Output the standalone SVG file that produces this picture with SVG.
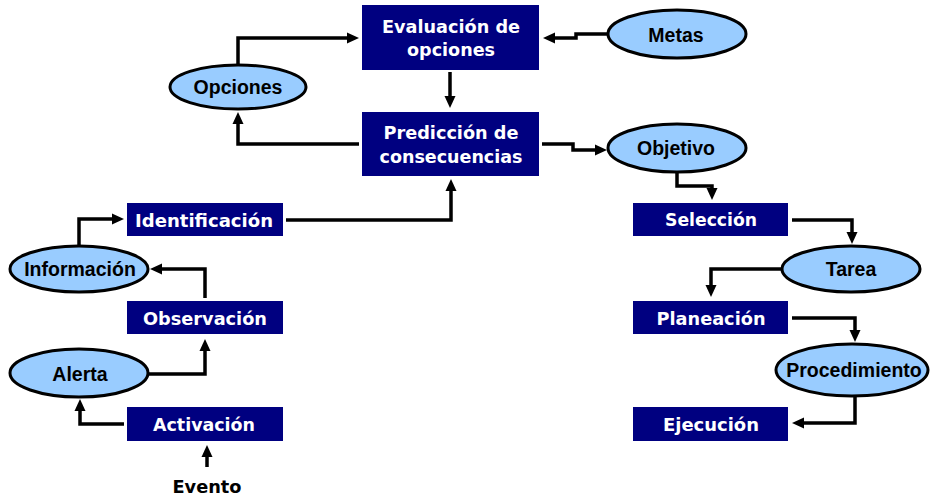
<svg xmlns="http://www.w3.org/2000/svg" width="930" height="500" viewBox="0 0 930 500">
<defs>
<marker id="ah" markerUnits="userSpaceOnUse" markerWidth="12" markerHeight="11" refX="3" refY="5.5" orient="auto" overflow="visible">
<path d="M0,0 L12,5.5 L0,11 z" fill="#000"/>
</marker>
<style>
.box{fill:#000080;}
.bt{font-family:"DejaVu Sans",Verdana,sans-serif;font-weight:bold;font-size:18px;fill:#fff;text-anchor:middle;}
.ell{fill:#99ccff;stroke:#000;stroke-width:3;}
.et{font-family:"Liberation Sans",Arial,sans-serif;font-weight:bold;font-size:19.5px;fill:#000;text-anchor:middle;}
.c{fill:none;stroke:#000;stroke-width:3.5;marker-end:url(#ah);}
</style>
</defs>
<rect width="930" height="500" fill="#fff"/>
<g id="connectors">
<path class="c" d="M238,65 V38 H350"/>
<path class="c" d="M450,72 V99"/>
<path class="c" d="M359,144 H238 V121"/>
<path class="c" d="M608,34 H576 V38 H552"/>
<path class="c" d="M542,144 H573 V150 H598"/>
<path class="c" d="M677,172 V186 H712 V191"/>
<path class="c" d="M792,220 H852 V235"/>
<path class="c" d="M782,269 H711 V288"/>
<path class="c" d="M792,318 H855 V333"/>
<path class="c" d="M855,396 V423 H801"/>
<path class="c" d="M79,246 V219 H115"/>
<path class="c" d="M286,220 H451 V188"/>
<path class="c" d="M205,298 V269 H159"/>
<path class="c" d="M148,374 H205 V348"/>
<path class="c" d="M124,424 H80 V408"/>
<path class="c" d="M207,467 V454"/>
</g>
<g id="evaluacion"><rect class="box" x="362" y="5" width="177" height="65"/>
<text class="bt" x="451" y="33" textLength="138" lengthAdjust="spacingAndGlyphs">Evaluación de</text>
<text class="bt" x="451" y="56" textLength="88" lengthAdjust="spacingAndGlyphs">opciones</text></g>
<g id="prediccion"><rect class="box" x="362" y="112" width="177" height="64"/>
<text class="bt" x="451" y="139" textLength="135" lengthAdjust="spacingAndGlyphs">Predicción de</text>
<text class="bt" x="451" y="163" textLength="143" lengthAdjust="spacingAndGlyphs">consecuencias</text></g>
<g id="identificacion"><rect class="box" x="127" y="203" width="156" height="33"/>
<text class="bt" x="204" y="227" textLength="138" lengthAdjust="spacingAndGlyphs">Identificación</text></g>
<g id="observacion"><rect class="box" x="127" y="301" width="156" height="33"/>
<text class="bt" x="205" y="325" textLength="124" lengthAdjust="spacingAndGlyphs">Observación</text></g>
<g id="activacion"><rect class="box" x="127" y="407" width="156" height="34"/>
<text class="bt" x="204" y="431" textLength="102" lengthAdjust="spacingAndGlyphs">Activación</text></g>
<g id="seleccion"><rect class="box" x="633" y="203" width="155" height="33"/>
<text class="bt" x="711" y="226" textLength="92" lengthAdjust="spacingAndGlyphs">Selección</text></g>
<g id="planeacion"><rect class="box" x="633" y="301" width="155" height="33"/>
<text class="bt" x="711" y="325" textLength="109" lengthAdjust="spacingAndGlyphs">Planeación</text></g>
<g id="ejecucion"><rect class="box" x="633" y="407" width="155" height="34"/>
<text class="bt" x="711" y="431" textLength="96" lengthAdjust="spacingAndGlyphs">Ejecución</text></g>
<g id="opciones"><ellipse class="ell" cx="238" cy="87" rx="68" ry="22"/>
<text class="et" x="238" y="94">Opciones</text></g>
<g id="metas"><ellipse class="ell" cx="677" cy="34" rx="69" ry="24"/>
<text class="et" x="676" y="42">Metas</text></g>
<g id="objetivo"><ellipse class="ell" cx="677" cy="148" rx="69" ry="24"/>
<text class="et" x="676" y="155">Objetivo</text></g>
<g id="tarea"><ellipse class="ell" cx="851" cy="269" rx="69" ry="23"/>
<text class="et" x="851" y="276">Tarea</text></g>
<g id="procedimiento"><ellipse class="ell" cx="852" cy="370" rx="76" ry="26"/>
<text class="et" x="854" y="377">Procedimiento</text></g>
<g id="informacion"><ellipse class="ell" cx="79" cy="269" rx="69" ry="23"/>
<text class="et" x="80" y="276">Información</text></g>
<g id="alerta"><ellipse class="ell" cx="79" cy="373" rx="69" ry="24"/>
<text class="et" x="80" y="381">Alerta</text></g>
<g id="evento"><text x="207" y="493" font-family="DejaVu Sans, Verdana, sans-serif" font-weight="bold" font-size="18" text-anchor="middle" textLength="69" lengthAdjust="spacingAndGlyphs">Evento</text></g>
</svg>
